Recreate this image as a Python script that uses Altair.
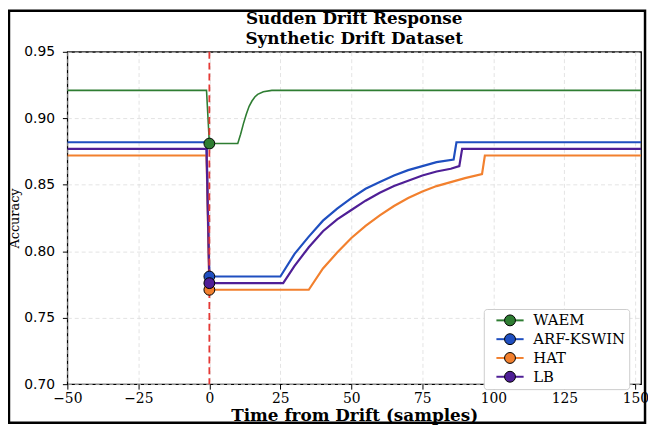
import altair as alt
import pandas as pd

series_names = ["WAEM", "ARF-KSWIN", "HAT", "LB"]
series_colors = ["#2e7d32", "#1f4fc0", "#f2802e", "#4f1f96"]

waem_t = [-50, -1, 0, 10, 11, 12, 13, 14, 15, 16, 17, 19, 22, 152]
waem_acc = [0.921, 0.921, 0.881, 0.881, 0.888, 0.896, 0.903, 0.909, 0.913, 0.916, 0.918, 0.920, 0.921, 0.921]

arf_t = [-50, -1, 0, 25, 30, 35, 40, 45, 50, 55, 60, 65, 70, 75, 80, 86, 87, 152]
arf_acc = [0.882, 0.882, 0.781, 0.781, 0.798, 0.811, 0.823, 0.832, 0.840, 0.847, 0.852, 0.857, 0.861, 0.864, 0.867, 0.869, 0.882, 0.882]

hat_t = [-50, -1, 0, 35, 40, 45, 50, 55, 60, 65, 70, 75, 80, 85, 90, 96, 97, 152]
hat_acc = [0.872, 0.872, 0.771, 0.771, 0.787, 0.799, 0.810, 0.819, 0.827, 0.834, 0.840, 0.845, 0.849, 0.852, 0.855, 0.858, 0.872, 0.872]

lb_t = [-50, -1, 0, 26, 30, 35, 40, 45, 50, 55, 60, 65, 70, 75, 80, 85, 88, 89, 152]
lb_acc = [0.877, 0.877, 0.776, 0.776, 0.789, 0.803, 0.815, 0.824, 0.831, 0.838, 0.844, 0.849, 0.853, 0.857, 0.860, 0.862, 0.864, 0.877, 0.877]

marker_t = [0, 0, 0, 0]
marker_acc = [0.881, 0.781, 0.771, 0.776]

drift_t = [0]

x_ticks = [-50, -25, 0, 25, 50, 75, 100, 125, 150]
y_ticks = [0.70, 0.75, 0.80, 0.85, 0.90, 0.95]

rows = []
for name, ts, vs in [("WAEM", waem_t, waem_acc), ("ARF-KSWIN", arf_t, arf_acc),
                     ("HAT", hat_t, hat_acc), ("LB", lb_t, lb_acc)]:
    for i, (t, v) in enumerate(zip(ts, vs)):
        rows.append({"series": name, "t": t, "acc": v, "i": i})
lines_df = pd.DataFrame(rows)
markers_df = pd.DataFrame({"series_m": series_names, "series_l": series_names,
                           "t": marker_t, "acc": marker_acc})
drift_df = pd.DataFrame({"t": drift_t})

xscale = alt.Scale(domain=[-50, 152], nice=False, zero=False)
yscale = alt.Scale(domain=[0.70, 0.95], nice=False, zero=False)
xaxis = alt.Axis(values=x_ticks, title="Time from Drift (samples)", labelFlush=False)
yaxis = alt.Axis(values=y_ticks, format=".2f", title="Accuracy", labelFlush=False)

common_leg = dict(orient="none", legendX=421, legendY=260, title=None,
                  symbolSize=121, labelFont="DejaVu Serif", labelFontSize=15,
                  labelOffset=16, symbolOffset=15, padding=4, rowPadding=3,
                  symbolOpacity=1, labelExpr="datum.label + '       '")

# line-segment legend (underneath): carries the box and the labels
leg_line = alt.Legend(symbolType="M-2.5,0H2.5", symbolStrokeWidth=2,
                      labelColor="black", fillColor="white", strokeColor="#cccccc",
                      cornerRadius=3, **common_leg)
# circle legend (on top): only the circles
leg_pt = alt.Legend(symbolType="circle", symbolStrokeColor="black", symbolStrokeWidth=1,
                    labelColor="transparent", fillColor="transparent",
                    strokeColor="transparent", **common_leg)

base = alt.Chart(lines_df).encode(
    x=alt.X("t:Q", scale=xscale, axis=xaxis),
    y=alt.Y("acc:Q", scale=yscale, axis=yaxis),
    color=alt.Color("series:N", scale=alt.Scale(domain=series_names, range=series_colors), legend=None),
    order="i:Q",
)
lines_main = base.transform_filter(alt.datum.series != "WAEM").mark_line(clip=True, strokeWidth=2.2)
lines_waem = base.transform_filter(alt.datum.series == "WAEM").mark_line(clip=True, strokeWidth=1.6)

legend_lines = alt.Chart(markers_df).mark_point(shape="M-2.5,0H2.5", filled=False, opacity=0).encode(
    x=alt.X("t:Q", scale=xscale),
    y=alt.Y("acc:Q", scale=yscale),
    stroke=alt.Stroke("series_l:N", sort=series_names,
                      scale=alt.Scale(range=series_colors), legend=leg_line),
)

rule = alt.Chart(drift_df).mark_rule(color="#e53935", strokeDash=[7, 4], strokeWidth=1.8).encode(
    x=alt.X("t:Q", scale=xscale)
)

points = alt.Chart(markers_df).mark_point(shape="circle", filled=True, stroke="black",
                                          strokeWidth=1, size=120, opacity=1).encode(
    x=alt.X("t:Q", scale=xscale),
    y=alt.Y("acc:Q", scale=yscale),
    fill=alt.Fill("series_m:N", sort=series_names,
                  scale=alt.Scale(range=series_colors), legend=leg_pt),
)

frame = alt.Chart(drift_df).mark_rect(fillOpacity=0, stroke="black", strokeWidth=2.5).encode(
    x=alt.value(-59), x2=alt.value(584), y=alt.value(-41.5), y2=alt.value(375)
)

chart = alt.layer(frame, lines_main, lines_waem, legend_lines, rule, points).properties(
    width=580, height=336,
    padding={"left": 60, "top": 42, "right": 7, "bottom": 41},
    autosize=alt.AutoSizeParams(type="none"),
    title=alt.TitleParams(["Sudden Drift Response", "Synthetic Drift Dataset"],
                          font="DejaVu Serif", fontSize=17, fontWeight="bold",
                          anchor="middle", offset=-39, lineHeight=20, color="black"),
).configure_view(stroke="black", strokeWidth=1.3).configure_axis(
    grid=True, gridColor="#dcdcdc", gridDash=[4, 3], gridWidth=0.8, domain=False,
    tickColor="black", tickSize=5, tickWidth=1, labelColor="black", titleColor="black"
).configure_axisX(
    labelFont="DejaVu Serif", labelFontSize=14, labelPadding=3,
    titleFont="DejaVu Serif", titleFontSize=17, titleFontWeight="bold", titlePadding=2
).configure_axisY(
    labelFont="DejaVu Sans", labelFontSize=14, labelPadding=8,
    titleFont="DejaVu Serif", titleFontSize=13, titleFontWeight="normal",
    titleX=-53, titleY=168, titleBaseline="middle"
)

chart.save("out.html", embed_options={"renderer": "svg", "actions": False})
